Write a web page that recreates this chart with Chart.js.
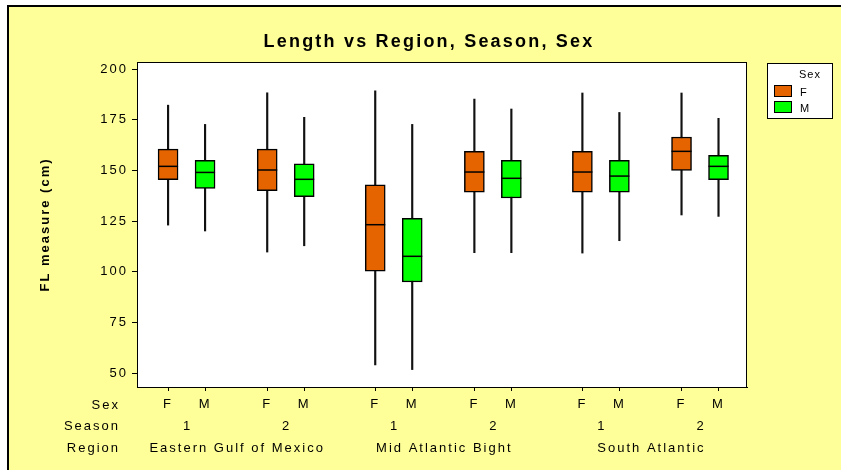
<!DOCTYPE html>
<html>
<head>
<meta charset="utf-8">
<script src="https://cdn.jsdelivr.net/npm/chart.js@4.4.0/dist/chart.umd.min.js"></script>
<style>
  html, body { margin: 0; padding: 0; background: #fff; overflow: hidden; }
  #wrap { width: 841px; height: 470px; }
</style>
</head>
<body>
<div id="wrap"><canvas id="box-chart" width="841" height="470"></canvas></div>
<script>
// groups in order: region x season
const regions = ["Eastern Gulf of Mexico", "Mid Atlantic Bight", "South Atlantic"];
const seasons = ["1", "2"];
const sexes = ["F", "M"];

// female boxes
const fMin = [123, 109.7, 54, 109.4, 109.2, 128];
const fQ1 = [145.4, 140, 100.3, 139.3, 139.3, 150];
const fMed = [152, 150.2, 123.2, 149.2, 149.2, 159.4];
const fQ3 = [160.5, 160.5, 142.9, 159.4, 159.4, 166.5];
const fMax = [182.2, 188.3, 189.3, 185.2, 188.2, 188.2];

// male boxes
const mMin = [120.1, 112.8, 51.7, 109.4, 115.3, 127.3];
const mQ1 = [141.1, 137, 94.9, 136.4, 139.3, 145.4];
const mMed = [149, 145.6, 107.6, 146.1, 147.2, 152];
const mQ3 = [155, 153.3, 126.3, 155, 155, 157.4];
const mMax = [172.7, 176.2, 172.7, 180.3, 178.6, 175.7];

const yTicks = [50, 75, 100, 125, 150, 175, 200];

const ORANGE = "#e66400";
const GREEN = "#00ff00";
const YELLOW = "#ffff99";
const FONT = "'Liberation Sans', Arial, sans-serif";

// x layout: slot index per box
const REGION_STEP = 5.6;
const SEASON_STEP = 2.68;
const groupPos = (g) => Math.floor(g / 2) * REGION_STEP + (g % 2) * SEASON_STEP;
const fPos = fMed.map((v, g) => groupPos(g));
const mPos = mMed.map((v, g) => groupPos(g) + 1);
const tickPos = [];
fPos.forEach((p, g) => { tickPos.push(p, mPos[g]); });

const boxes = (pos, lo, hi) => pos.map((x, i) => ({ x: x, y: [lo[i], hi[i]] }));
const points = (pos, vals) => pos.map((x, i) => ({ x: x, y: vals[i] }));

const pagePlugin = {
  id: "page",
  beforeDraw(chart) {
    const { ctx, width, height, chartArea } = chart;
    ctx.save();
    ctx.fillStyle = "#fff";
    ctx.fillRect(0, 0, width, height);
    ctx.fillStyle = YELLOW;
    ctx.fillRect(9, 7, width - 9, height - 7);
    // page frame, top and left only
    ctx.fillStyle = "#000";
    ctx.fillRect(7, 5, width - 7, 2);
    ctx.fillRect(7, 5, 2, height - 5);
    ctx.fillStyle = "#fff";
    ctx.fillRect(chartArea.left, chartArea.top, chartArea.right - chartArea.left, chartArea.bottom - chartArea.top);
    ctx.restore();
    ctx.letterSpacing = "2px";
  },
  afterDraw(chart) {
    const { ctx, chartArea } = chart;
    const xs = chart.scales.x;
    ctx.save();
    ctx.strokeStyle = "#000";
    ctx.lineWidth = 1;
    ctx.strokeRect(chartArea.left + 0.5, chartArea.top + 0.5, chartArea.right - chartArea.left - 1, chartArea.bottom - chartArea.top);

    // title
    ctx.fillStyle = "#000";
    ctx.font = "bold 18px " + FONT;
    ctx.letterSpacing = "2.2px";
    ctx.textAlign = "center";
    ctx.textBaseline = "alphabetic";
    ctx.fillText("Length vs Region, Season, Sex", 429, 47);

    // bottom rows
    ctx.font = "13px " + FONT;
    ctx.letterSpacing = "2px";
    ctx.textAlign = "right";
    ctx.fillText("Sex", 120, 409);
    ctx.fillText("Season", 120, 430);
    ctx.fillText("Region", 120, 452);
    ctx.textAlign = "center";
    fPos.forEach((p, g) => {
      ctx.fillText(seasons[g % 2], xs.getPixelForValue(p + 0.5) + 1, 430);
    });
    regions.forEach((r, i) => {
      const c = i * REGION_STEP + (SEASON_STEP + 1) / 2;
      ctx.fillText(r, xs.getPixelForValue(c) + 1, 452);
    });

    // legend
    ctx.letterSpacing = "1px";
    ctx.fillStyle = "#fff";
    ctx.fillRect(767, 63, 66, 56);
    ctx.strokeRect(767.5, 63.5, 65, 55);
    ctx.fillStyle = "#000";
    ctx.font = "11px " + FONT;
    ctx.textAlign = "left";
    ctx.fillText("Sex", 799, 78);
    [[ORANGE, 85], [GREEN, 101]].forEach(([c, y], i) => {
      ctx.fillStyle = c;
      ctx.fillRect(774, y, 18, 12);
      ctx.strokeStyle = "#000";
      ctx.strokeRect(774.5, y + 0.5, 17, 11);
      ctx.fillStyle = "#000";
      ctx.fillText(sexes[i], 800, y + 11);
    });
    ctx.restore();
  }
};

const boxStyle = {
  borderColor: "#000",
  borderWidth: 1.5,
  borderSkipped: false,
  barThickness: 20,
  grouped: false
};

new Chart("box-chart", {
  type: "bar",
  data: {
    datasets: [
      { label: "whisker F", data: boxes(fPos, fMin, fMax), backgroundColor: "#111", borderWidth: 0, barThickness: 1.5, grouped: false, order: 3 },
      { label: "whisker M", data: boxes(mPos, mMin, mMax), backgroundColor: "#111", borderWidth: 0, barThickness: 1.5, grouped: false, order: 3 },
      Object.assign({ label: "F", data: boxes(fPos, fQ1, fQ3), backgroundColor: ORANGE, order: 2 }, boxStyle),
      Object.assign({ label: "M", data: boxes(mPos, mQ1, mQ3), backgroundColor: GREEN, order: 2 }, boxStyle),
      { type: "scatter", label: "median F", data: points(fPos, fMed), pointStyle: "line", pointRadius: 10, borderColor: "#000", borderWidth: 1.5, order: 1 },
      { type: "scatter", label: "median M", data: points(mPos, mMed), pointStyle: "line", pointRadius: 10, borderColor: "#000", borderWidth: 1.5, order: 1 }
    ]
  },
  options: {
    responsive: false,
    animation: false,
    layout: { padding: { left: 0, top: 62, right: 94, bottom: 0 } },
    plugins: {
      legend: { display: false },
      title: { display: false },
      tooltip: { enabled: false }
    },
    scales: {
      x: {
        type: "linear",
        min: -0.84,
        max: 15.65,
        offset: false,
        afterBuildTicks: (scale) => { scale.ticks = tickPos.map((v) => ({ value: v })); },
        afterFit: (scale) => { scale.height = 83; },
        grid: { offset: false, drawOnChartArea: false, drawTicks: true, tickLength: 4, color: "#000" },
        border: { color: "#000", width: 1 },
        ticks: {
          autoSkip: false,
          maxRotation: 0,
          padding: 6,
          color: "#000",
          font: { family: FONT, size: 13 },
          callback: (value, index) => sexes[index % 2]
        }
      },
      y: {
        min: 43.1,
        max: 203.5,
        afterBuildTicks: (scale) => { scale.ticks = yTicks.map((v) => ({ value: v })); },
        afterFit: (scale) => { scale.width = 137; },
        grid: { drawOnChartArea: false, drawTicks: true, tickLength: 5, color: "#000" },
        border: { color: "#000", width: 1 },
        ticks: {
          padding: 4,
          color: "#000",
          font: { family: FONT, size: 13 }
        },
        title: {
          display: true,
          text: "FL measure (cm)",
          color: "#000",
          font: { family: FONT, size: 13, weight: "bold" },
          padding: { top: 38, bottom: 0 }
        }
      }
    }
  },
  plugins: [pagePlugin]
});
</script>
</body>
</html>
